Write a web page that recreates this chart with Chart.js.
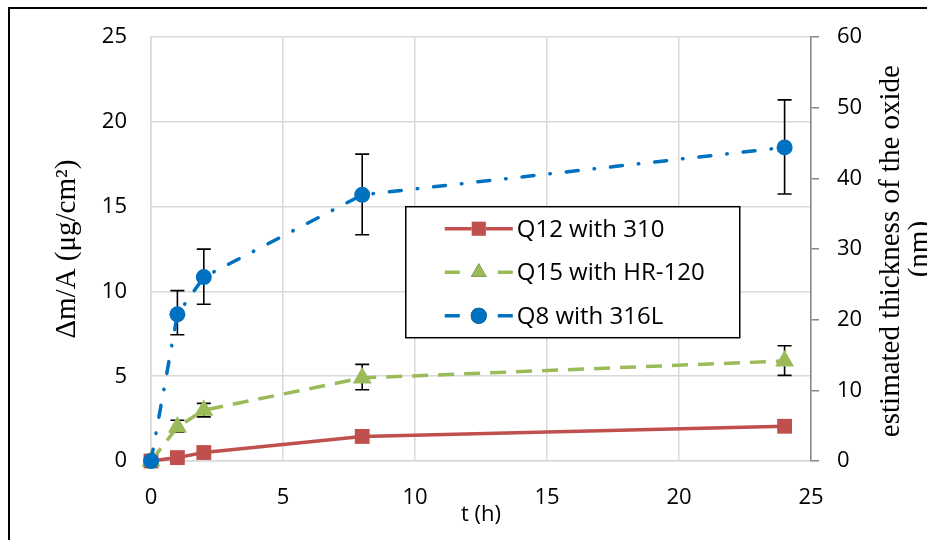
<!DOCTYPE html>
<html>
<head>
<meta charset="UTF-8" />
<script src="https://cdn.jsdelivr.net/npm/chart.js@4.4.0/dist/chart.umd.min.js"></script>
<style>
    html, body { margin: 0; padding: 0; overflow: hidden; background: #fff; }
    #wrap { position: relative; width: 927px; height: 540px; }
    #frame { position: absolute; left: 8px; top: 7px; width: 1000px; height: 600px;
             border: 2px solid #000; pointer-events: none; }
</style>
</head>
<body>
<div id="wrap">
    <canvas id="chart" width="927" height="540"></canvas>
    <div id="frame"></div>
</div>

<script>
    // time points (h)
    const times = [0, 1, 2, 8, 24];

    // mass gain, ug/cm2
    const q12 = [0, 0.2, 0.5, 1.45, 2.05];
    const q15 = [0, 2.0, 3.0, 4.9, 5.9];
    const q8  = [0, 8.65, 10.85, 15.7, 18.5];

    // error bar ends (upper / lower), null = no bar
    const q15Hi = [null, 2.4, 3.4, 5.7, 6.8];
    const q15Lo = [null, 1.7, 2.6, 4.2, 5.05];
    const q8Hi  = [null, 10.05, 12.5, 18.1, 21.3];
    const q8Lo  = [null, 7.45, 9.25, 13.35, 15.75];

    const labels = ['Q12 with 310', 'Q15 with HR-120', 'Q8 with 316L'];
    const xTicks = [0, 5, 10, 15, 20, 25];
    const leftTicks = [0, 5, 10, 15, 20, 25];
    const rightTicks = [0, 10, 20, 30, 40, 50, 60];

    const RED = '#C0504D', GREEN = '#9BBB59', BLUE = '#0070C0';
    const tickFont = { family: 'Open Sans', size: 22 };

    function pts(ys) {
        return times.map((t, i) => ({ x: t, y: ys[i] }));
    }

    const errorBars = {
        id: 'errorBars',
        beforeDatasetsDraw(chart) {
            const ctx = chart.ctx;
            const xs = chart.scales.x, ys = chart.scales.y;
            const sets = [[q15Hi, q15Lo], [q8Hi, q8Lo]];
            ctx.save();
            ctx.strokeStyle = '#000';
            ctx.lineWidth = 1.6;
            sets.forEach(([hi, lo]) => {
                times.forEach((t, i) => {
                    if (hi[i] == null) return;
                    const px = xs.getPixelForValue(t);
                    const y1 = ys.getPixelForValue(hi[i]);
                    const y2 = ys.getPixelForValue(lo[i]);
                    ctx.beginPath();
                    ctx.moveTo(px, y1); ctx.lineTo(px, y2);
                    ctx.moveTo(px - 7, y1); ctx.lineTo(px + 7, y1);
                    ctx.moveTo(px - 7, y2); ctx.lineTo(px + 7, y2);
                    ctx.stroke();
                });
            });
            ctx.restore();
        }
    };

    const extras = {
        id: 'extras',
        afterDraw(chart) {
            const ctx = chart.ctx;
            const a = chart.chartArea;
            ctx.save();

            // right axis title, reads bottom to top
            ctx.fillStyle = '#000';
            ctx.font = '29px "Liberation Serif"';
            ctx.textAlign = 'center';
            ctx.textBaseline = 'middle';
            const cy = (a.top + a.bottom) / 2 + 2;
            ctx.translate(891, cy);
            ctx.rotate(-Math.PI / 2);
            ctx.fillText('estimated thickness of the oxide', 0, 0);
            ctx.fillText('(nm)', 2, 29);
            ctx.restore();

            // legend box
            ctx.save();
            const w = a.right - a.left, h = a.bottom - a.top;
            const bx = a.left + 0.386 * w, by = a.top + 0.4 * h;
            const bw = 334, bh = 131;
            ctx.fillStyle = '#fff';
            ctx.fillRect(bx, by, bw, bh);
            ctx.strokeStyle = '#000';
            ctx.lineWidth = 1.5;
            ctx.strokeRect(bx, by, bw, bh);

            const styles = [
                { c: RED, shape: 'rect', r: 10, dash: false },
                { c: GREEN, shape: 'triangle', r: 9, dash: true },
                { c: BLUE, shape: 'circle', r: 8, dash: true }
            ];
            styles.forEach((s, i) => {
                const y = by + 22 + i * 43.5;
                const x0 = bx + 39, x1 = bx + 107, xm = (x0 + x1) / 2;
                ctx.strokeStyle = s.c;
                ctx.lineWidth = 3.5;
                ctx.beginPath();
                if (s.dash) {
                    ctx.moveTo(x0, y); ctx.lineTo(x0 + 15, y);
                    ctx.moveTo(x1 - 15, y); ctx.lineTo(x1, y);
                } else {
                    ctx.moveTo(x0, y); ctx.lineTo(x1, y);
                }
                ctx.stroke();
                Chart.helpers.drawPoint(ctx, {
                    pointStyle: s.shape, radius: s.r, borderWidth: 0, rotation: 0
                }, xm, y);
                ctx.fillStyle = s.c;
                ctx.fill();
                ctx.fillStyle = '#000';
                ctx.font = '24px "Open Sans"';
                ctx.textAlign = 'left';
                ctx.textBaseline = 'middle';
                ctx.fillText(labels[i], x1 + 4, y + 1);
            });
            ctx.restore();
        }
    };

    new Chart(document.getElementById('chart'), {
        type: 'line',
        data: {
            datasets: [
                {
                    label: labels[0], data: pts(q12), order: 2, clip: false,
                    borderColor: RED, backgroundColor: RED, borderWidth: 3.5,
                    pointStyle: 'rect', pointRadius: 10.5, pointBorderWidth: 0
                },
                {
                    label: labels[1], data: pts(q15), order: 1, clip: false,
                    borderColor: GREEN, backgroundColor: GREEN, borderWidth: 3.5,
                    borderDash: [16, 10],
                    pointStyle: 'triangle', pointRadius: 11, pointBorderWidth: 0
                },
                {
                    label: labels[2], data: pts(q8), order: 0, clip: false,
                    borderColor: BLUE, backgroundColor: BLUE, borderWidth: 3.5,
                    borderDash: [12, 16, 0.5, 16], borderCapStyle: 'round',
                    pointStyle: 'circle', pointRadius: 8, pointBorderWidth: 0
                }
            ]
        },
        options: {
            responsive: false,
            animation: false,
            layout: { padding: { top: 34, left: 0, right: 0, bottom: 0 } },
            plugins: { legend: { display: false }, tooltip: { enabled: false } },
            scales: {
                x: {
                    type: 'linear', min: 0, max: 25,
                    afterBuildTicks: s => { s.ticks = xTicks.map(v => ({ value: v })); },
                    afterFit: s => { s.height = 79; },
                    grid: { color: '#d9d9d9', lineWidth: 1.5, drawTicks: false },
                    border: { color: '#d9d9d9', width: 1.5 },
                    ticks: { font: tickFont, color: '#000', padding: 24, maxRotation: 0 },
                    title: { display: true, text: 't (h)', font: tickFont, color: '#000',
                             padding: { top: 0, bottom: 12 } }
                },
                y: {
                    position: 'left', min: 0, max: 25,
                    afterBuildTicks: s => { s.ticks = leftTicks.map(v => ({ value: v })); },
                    afterFit: s => { s.width = 151; },
                    grid: { color: '#d9d9d9', lineWidth: 1.5, drawTicks: false },
                    border: { color: '#d9d9d9', width: 1.5 },
                    ticks: { font: tickFont, color: '#000', padding: 24 },
                    title: { display: true, text: 'Δm/A (μg/cm²)', color: '#000',
                             font: { family: 'Liberation Serif', size: 29 },
                             padding: { top: 50, bottom: 0 } }
                },
                y1: {
                    position: 'right', min: 0, max: 60, display: true,
                    afterBuildTicks: s => { s.ticks = rightTicks.map(v => ({ value: v })); },
                    afterFit: s => { s.width = 116; },
                    grid: { drawOnChartArea: false, drawTicks: true, tickLength: 8,
                            color: '#868686', lineWidth: 1.5 },
                    border: { color: '#868686', width: 1.5 },
                    ticks: { font: tickFont, color: '#000', padding: 18 }
                }
            }
        },
        plugins: [errorBars, extras]
    });
</script>
</body>
</html>
